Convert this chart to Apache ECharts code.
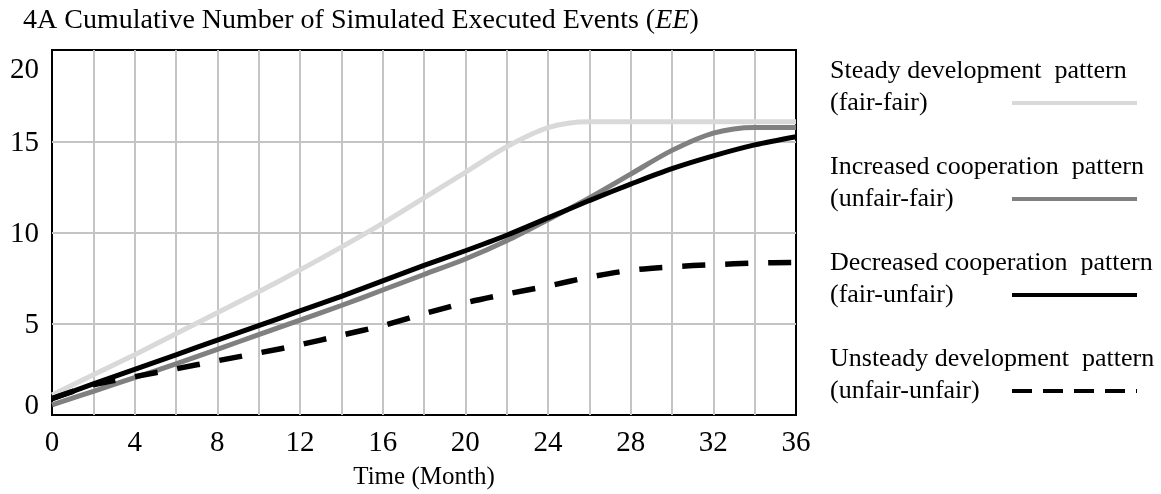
<!DOCTYPE html>
<html>
<head>
<meta charset="utf-8">
<script src="https://cdn.jsdelivr.net/npm/echarts@6/dist/echarts.min.js"></script>
<style>
html,body{margin:0;padding:0;background:#fff;}
#chart{width:1161px;height:494px;}
</style>
</head>
<body>
<div id="chart"></div>
<script>
// ---- data ----
const months = [0, 2, 4, 6, 8, 10, 12, 14, 16, 18, 20, 22, 24, 26, 28, 30, 32, 34, 36];
const steady    = [1.1, 2.2, 3.3, 4.45, 5.6, 6.75, 7.95, 9.2, 10.5, 11.9, 13.3, 14.7, 15.75, 16.07, 16.07, 16.07, 16.07, 16.07, 16.07];
const increased = [0.55, 1.3, 2.05, 2.8, 3.6, 4.4, 5.2, 6.0, 6.85, 7.7, 8.55, 9.55, 10.7, 11.9, 13.2, 14.5, 15.45, 15.76, 15.76];
const decreased = [0.9, 1.7, 2.5, 3.3, 4.1, 4.9, 5.7, 6.5, 7.35, 8.2, 9.0, 9.85, 10.8, 11.75, 12.65, 13.5, 14.2, 14.8, 15.25];
const unsteady  = [0.9, 1.65, 2.1, 2.53, 2.97, 3.4, 3.85, 4.37, 4.9, 5.55, 6.15, 6.63, 7.07, 7.55, 7.93, 8.12, 8.24, 8.32, 8.36];
const seriesNames = ['Steady development  pattern', 'Increased cooperation  pattern', 'Decreased cooperation  pattern', 'Unsteady development  pattern'];
const seriesSub = ['(fair-fair)', '(unfair-fair)', '(fair-unfair)', '(unfair-unfair)'];
const xTickLabels = [0, 4, 8, 12, 16, 20, 24, 28, 32, 36];
const yTickLabels = [0, 5, 10, 15, 20];
const titleText = '4A Cumulative Number of Simulated Executed Events (';
const titleItalic = 'EE';
const xName = 'Time (Month)';

// ---- chart ----
const FONT = '"Liberation Serif", "Times New Roman", serif';
const seriesValues = [steady, increased, decreased, unsteady];
const colors = ['#d9d9d9', '#808080', '#000000', '#000000'];
const widths = [5, 5, 5, 5.5];
const dashes = ['solid', 'solid', 'solid', [23, 20]];
const legendDashes = ['solid', 'solid', 'solid', [20, 11]];

const chart = echarts.init(document.getElementById('chart'), null, {renderer: 'canvas'});
const option = {
  backgroundColor: '#ffffff',
  animation: false,
  title: {
    text: '{a|' + titleText + '}{i|' + titleItalic + '}{a|)}',
    left: 23, top: 7, padding: 0,
    textStyle: {
      fontWeight: 'normal',
      rich: {
        a: {fontFamily: FONT, fontSize: 28, fontWeight: 'normal', color: '#000'},
        i: {fontFamily: FONT, fontSize: 28, fontWeight: 'normal', fontStyle: 'italic', color: '#000'}
      }
    }
  },
  grid: {
    left: 52, right: 365, top: 50, bottom: 79,
    show: true, borderColor: '#000', borderWidth: 2, backgroundColor: 'transparent',
    containLabel: false, outerBoundsMode: 'none'
  },
  xAxis: {
    type: 'value', min: 0, max: 36, interval: 2,
    name: xName, nameLocation: 'middle', nameGap: 50,
    nameTextStyle: {fontFamily: FONT, fontSize: 25, color: '#000'},
    axisLine: {show: false}, axisTick: {show: false},
    axisLabel: {
      fontFamily: FONT, fontSize: 29, color: '#000', margin: 14, hideOverlap: false,
      formatter: v => xTickLabels.includes(v) ? String(v) : ''
    },
    splitLine: {show: true, showMinLine: false, showMaxLine: false, lineStyle: {color: '#c4c4c4', width: 2}}
  },
  yAxis: {
    type: 'value', min: 0, max: 20, interval: 5,
    axisLine: {show: false}, axisTick: {show: false},
    axisLabel: {
      fontFamily: FONT, fontSize: 29, color: '#000', margin: 13, hideOverlap: false,
      formatter: v => {
        if (!yTickLabels.includes(v)) return '';
        if (v === 20) return '{mx|' + v + '}';
        if (v === 0) return '{mn|' + v + '}';
        return '{n|' + v + '}';
      },
      rich: {
        mx: {fontFamily: FONT, fontSize: 29, color: '#000', padding: [40, 0, 0, 0]},
        mn: {fontFamily: FONT, fontSize: 29, color: '#000', padding: [0, 0, 17, 0]},
        n:  {fontFamily: FONT, fontSize: 29, color: '#000', padding: [4, 0, 0, 0]}
      }
    },
    splitLine: {show: true, showMinLine: false, showMaxLine: false, lineStyle: {color: '#c4c4c4', width: 2}}
  },
  legend: {
    orient: 'vertical', left: 830, top: 58, padding: 0, itemGap: 6,
    itemWidth: 125, itemHeight: 4, align: 'right', selectedMode: false,
    formatter: name => {
      const i = seriesNames.indexOf(name);
      return '{t|' + name + '}\n{t|' + seriesSub[i] + '}\n{t| }';
    },
    textStyle: {
      width: 177, overflow: 'none',
      rich: {t: {fontFamily: FONT, fontSize: 26, lineHeight: 32, color: '#000', align: 'left'}}
    },
    data: seriesNames.map((n, i) => ({
      name: n,
      itemStyle: {opacity: 0},
      lineStyle: {color: colors[i], width: 4, type: legendDashes[i], cap: 'butt'}
    }))
  },
  series: seriesNames.map((n, i) => ({
    name: n, type: 'line', symbol: 'none', smooth: 0.3,
    data: months.map((m, k) => [m, seriesValues[i][k]]),
    lineStyle: {color: colors[i], width: widths[i], type: dashes[i], cap: 'butt'},
    itemStyle: {color: colors[i]},
    z: 2 + i
  }))
};
chart.setOption(option);
</script>
</body>
</html>
